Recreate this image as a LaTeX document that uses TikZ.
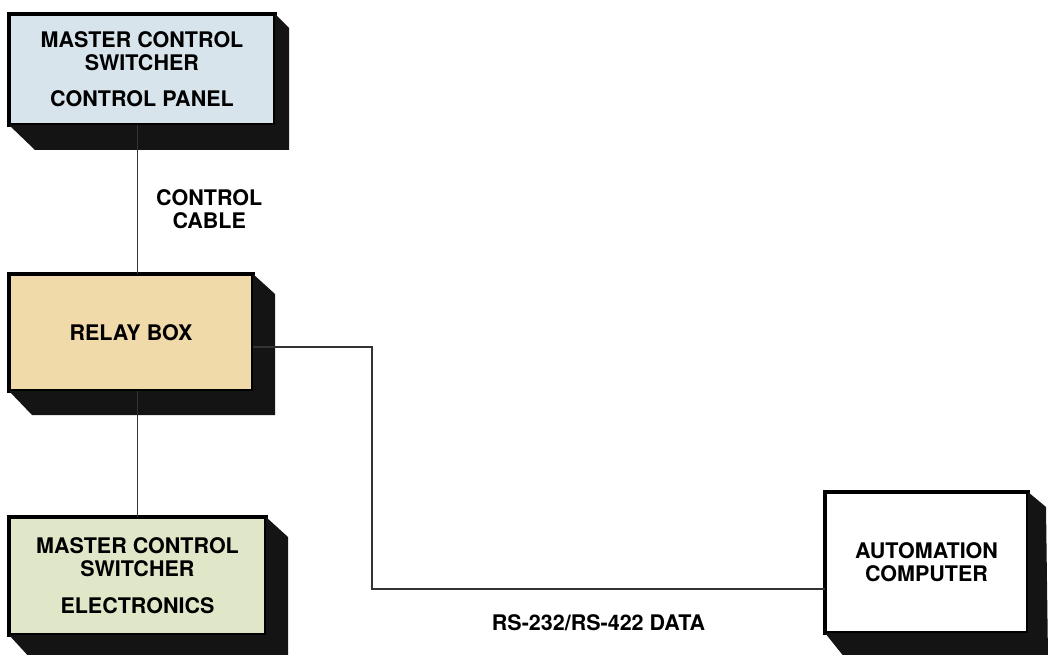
\documentclass[tikz,border=0pt]{standalone}
\usepackage{fontspec}
\setmainfont{TeX Gyre Heros}
\usetikzlibrary{positioning, calc}
\usepackage{xcolor}

\definecolor{panelblue}{RGB}{216,228,236}
\definecolor{relaytan}{RGB}{240,218,170}
\definecolor{elecgreen}{RGB}{224,230,200}
\definecolor{depthblack}{RGB}{20,20,20}

\begin{document}
\begin{tikzpicture}[
    x=1pt, y=-1pt,
    font=\fontsize{21.5}{23}\selectfont\bfseries,
    face/.style={
      draw=black, line width=4pt, rectangle,
      outer sep=0pt, inner sep=0pt, align=center
    },
    depth/.style={fill=depthblack},
    cable/.style={line width=1.4pt, draw=black!80}
  ]

    \useasboundingbox (0,0) rectangle (1048,655);

    % --- Control panel ---
    \node[face, fill=panelblue, minimum width=266pt, minimum height=111pt]
      (panel) at (142,69.5)
      {MASTER CONTROL\\SWITCHER\\[13pt]CONTROL PANEL};

    % --- Relay box ---
    \node[face, fill=relaytan, minimum width=244pt, minimum height=117pt,
          below=149pt of panel.south west, anchor=north west] (relay)
      {RELAY BOX};

    % --- Switcher electronics ---
    \node[face, fill=elecgreen, minimum width=257pt, minimum height=118pt,
          below=126pt of relay.south west, anchor=north west] (elec)
      {MASTER CONTROL\\SWITCHER\\[14pt]ELECTRONICS};

    % --- Automation computer ---
    \node[face, fill=white, minimum width=203pt, minimum height=141pt]
      (comp) at (926.5,562.5)
      {AUTOMATION\\COMPUTER};

    % --- Box depths ---
    \fill[depth] (panel.north east) -- ++(14,14)
      -- ([shift={(14,25)}]panel.south east)
      -- ([shift={(26,25)}]panel.south west)
      -- (panel.south west) -- (panel.south east) -- cycle;
    \fill[depth] (relay.north east) -- ++(22,20)
      -- ([shift={(22,24)}]relay.south east)
      -- ([shift={(23,24)}]relay.south west)
      -- (relay.south west) -- (relay.south east) -- cycle;
    \fill[depth] (elec.north east) -- ++(22,20)
      -- ([shift={(22,25)}]elec.south east)
      -- ([shift={(23,25)}]elec.south west)
      -- (elec.south west) -- (elec.south east) -- cycle;
    \fill[depth] (comp.north east) -- ++(18,15)
      -- ([shift={(20,25)}]comp.south east)
      -- ([shift={(20,25)}]comp.south west)
      -- (comp.south west) -- (comp.south east) -- cycle;

    % --- Connections ---
    \draw[cable] (panel.south -| elec.north) -- (relay.north -| elec.north)
      node[pos=0.567, right=18pt, inner sep=0pt, align=center] {CONTROL\\CABLE};
    \draw[cable] (elec.north) -- (elec.north |- relay.south);

    % RS-232/RS-422 link to the computer
    \draw[cable] ([yshift=-14.5pt]relay.east) -- ++(119,0)
      |- ([yshift=-26.5pt]comp.west)
      node[pos=0.75, yshift=-34pt] {RS-232/RS-422 DATA};

  \end{tikzpicture}
\end{document}
